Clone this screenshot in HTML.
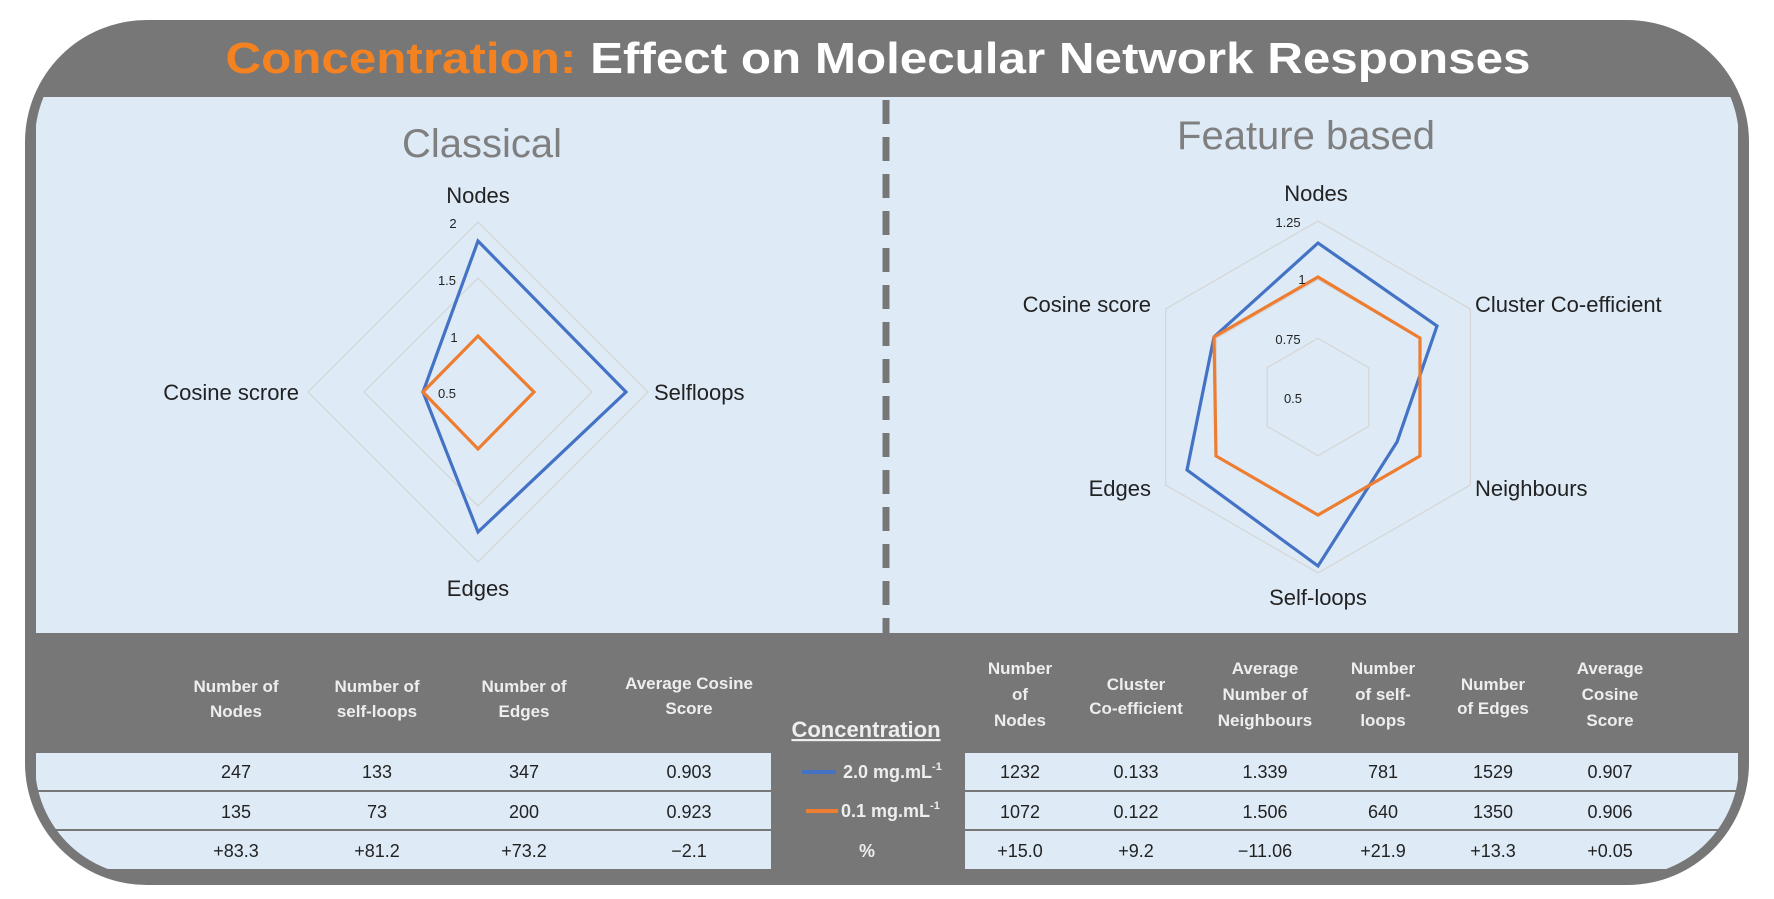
<!DOCTYPE html>
<html><head><meta charset="utf-8"><style>
html,body{margin:0;padding:0;background:#fff;}
svg{display:block;}
text{font-family:"Liberation Sans",sans-serif;}
</style></head><body>
<svg width="1774" height="899" viewBox="0 0 1774 899" xmlns="http://www.w3.org/2000/svg">
<defs>
<clipPath id="c"><rect x="35" y="28" width="1704" height="848" rx="112" ry="112"/></clipPath>
</defs>
<rect x="25" y="20" width="1724" height="865" rx="122" ry="122" fill="#777777"/>
<g clip-path="url(#c)">
<rect x="36" y="97" width="1702" height="536" fill="#deebf7"/>
<g fill="#deebf7">
<rect x="36" y="753" width="735" height="37"/>
<rect x="36" y="792" width="735" height="37"/>
<rect x="36" y="831" width="735" height="38"/>
<rect x="965" y="753" width="773" height="37"/>
<rect x="965" y="792" width="773" height="37"/>
<rect x="965" y="831" width="773" height="38"/>
</g>
</g>
<line x1="886" y1="100" x2="886" y2="633" stroke="#777" stroke-width="7" stroke-dasharray="24,13"/>
<text x="878" y="73" text-anchor="middle" font-size="44" font-weight="bold" textLength="1305" lengthAdjust="spacingAndGlyphs"><tspan fill="#f58220">Concentration:</tspan><tspan fill="#ffffff"> Effect on Molecular Network Responses</tspan></text>
<text x="482" y="157" text-anchor="middle" font-size="40" fill="#7f7f7f">Classical</text>
<text x="1306" y="149" text-anchor="middle" font-size="40" fill="#7f7f7f">Feature based</text>

<g fill="none" stroke="#d6d6d6" stroke-width="1.3">
<polygon points="478,335 535,392 478,449 421,392"/>
<polygon points="478,278 592,392 478,506 364,392"/>
<polygon points="478,222 648,392 478,562 308,392"/>
</g>
<polygon points="478,241 626,392 478,532 423,392" fill="none" stroke="#4472c4" stroke-width="3.2"/>
<polygon points="478,336 534,392 478,449 423,392" fill="none" stroke="#ed7d31" stroke-width="3.2"/>
<g font-size="13" fill="#222">
<text x="453" y="228" text-anchor="middle">2</text>
<text x="447" y="285" text-anchor="middle">1.5</text>
<text x="454" y="342" text-anchor="middle">1</text>
<text x="447" y="398" text-anchor="middle">0.5</text>
</g>
<g font-size="22" fill="#222">
<text x="478" y="203" text-anchor="middle">Nodes</text>
<text x="654" y="400">Selfloops</text>
<text x="478" y="596" text-anchor="middle">Edges</text>
<text x="299" y="400" text-anchor="end">Cosine scrore</text>
</g>

<g fill="none" stroke="#d6d6d6" stroke-width="1.3">
<polygon points="1318,338.3 1368.8,367.7 1368.8,426.3 1318,455.7 1267.2,426.3 1267.2,367.7"/>
<polygon points="1318,279.6 1419.7,338.3 1419.7,455.7 1318,514.4 1216.3,455.7 1216.3,338.3"/>
<polygon points="1318,221 1470.4,309 1470.4,485 1318,573 1165.6,485 1165.6,309"/>
</g>
<polygon points="1318,243 1437,326 1397,442 1318,566 1187,470 1214,337" fill="none" stroke="#4472c4" stroke-width="3.2"/>
<polygon points="1318,277 1420,338 1420,456 1318,515 1216,456 1214,337" fill="none" stroke="#ed7d31" stroke-width="3.2"/>
<g font-size="13" fill="#222">
<text x="1288" y="227" text-anchor="middle">1.25</text>
<text x="1302" y="284" text-anchor="middle">1</text>
<text x="1288" y="344" text-anchor="middle">0.75</text>
<text x="1293" y="403" text-anchor="middle">0.5</text>
</g>
<g font-size="22" fill="#222">
<text x="1316" y="201" text-anchor="middle">Nodes</text>
<text x="1475" y="312">Cluster Co-efficient</text>
<text x="1475" y="496">Neighbours</text>
<text x="1318" y="605" text-anchor="middle">Self-loops</text>
<text x="1151" y="496" text-anchor="end">Edges</text>
<text x="1151" y="312" text-anchor="end">Cosine score</text>
</g>

<g font-size="17" font-weight="bold" fill="#eeeeee" text-anchor="middle">
<text x="236" y="692">Number of</text><text x="236" y="717">Nodes</text>
<text x="377" y="692">Number of</text><text x="377" y="717">self-loops</text>
<text x="524" y="692">Number of</text><text x="524" y="717">Edges</text>
<text x="689" y="689">Average Cosine</text><text x="689" y="714">Score</text>
<text x="1020" y="674">Number</text><text x="1020" y="700">of</text><text x="1020" y="726">Nodes</text>
<text x="1136" y="690">Cluster</text><text x="1136" y="714">Co-efficient</text>
<text x="1265" y="674">Average</text><text x="1265" y="700">Number of</text><text x="1265" y="726">Neighbours</text>
<text x="1383" y="674">Number</text><text x="1383" y="700">of self-</text><text x="1383" y="726">loops</text>
<text x="1493" y="690">Number</text><text x="1493" y="714">of Edges</text>
<text x="1610" y="674">Average</text><text x="1610" y="700">Cosine</text><text x="1610" y="726">Score</text>
</g>
<text x="866" y="737" text-anchor="middle" font-size="22" font-weight="bold" fill="#eeeeee" text-decoration="underline">Concentration</text>
<line x1="802" y1="772" x2="836" y2="772" stroke="#4472c4" stroke-width="4"/>
<line x1="806" y1="811" x2="838" y2="811" stroke="#ed7d31" stroke-width="4"/>
<g font-size="18" font-weight="bold" fill="#eeeeee">
<text x="843" y="778">2.0 mg.mL<tspan font-size="11" dy="-8">-1</tspan></text>
<text x="841" y="817">0.1 mg.mL<tspan font-size="11" dy="-8">-1</tspan></text>
<text x="867" y="857" text-anchor="middle">%</text>
</g>
<g font-size="18" fill="#222" text-anchor="middle">
<text x="236" y="778">247</text><text x="377" y="778">133</text><text x="524" y="778">347</text><text x="689" y="778">0.903</text>
<text x="236" y="818">135</text><text x="377" y="818">73</text><text x="524" y="818">200</text><text x="689" y="818">0.923</text>
<text x="236" y="857">+83.3</text><text x="377" y="857">+81.2</text><text x="524" y="857">+73.2</text><text x="689" y="857">−2.1</text>
<text x="1020" y="778">1232</text><text x="1136" y="778">0.133</text><text x="1265" y="778">1.339</text><text x="1383" y="778">781</text><text x="1493" y="778">1529</text><text x="1610" y="778">0.907</text>
<text x="1020" y="818">1072</text><text x="1136" y="818">0.122</text><text x="1265" y="818">1.506</text><text x="1383" y="818">640</text><text x="1493" y="818">1350</text><text x="1610" y="818">0.906</text>
<text x="1020" y="857">+15.0</text><text x="1136" y="857">+9.2</text><text x="1265" y="857">−11.06</text><text x="1383" y="857">+21.9</text><text x="1493" y="857">+13.3</text><text x="1610" y="857">+0.05</text>
</g>
</svg>
</body></html>
